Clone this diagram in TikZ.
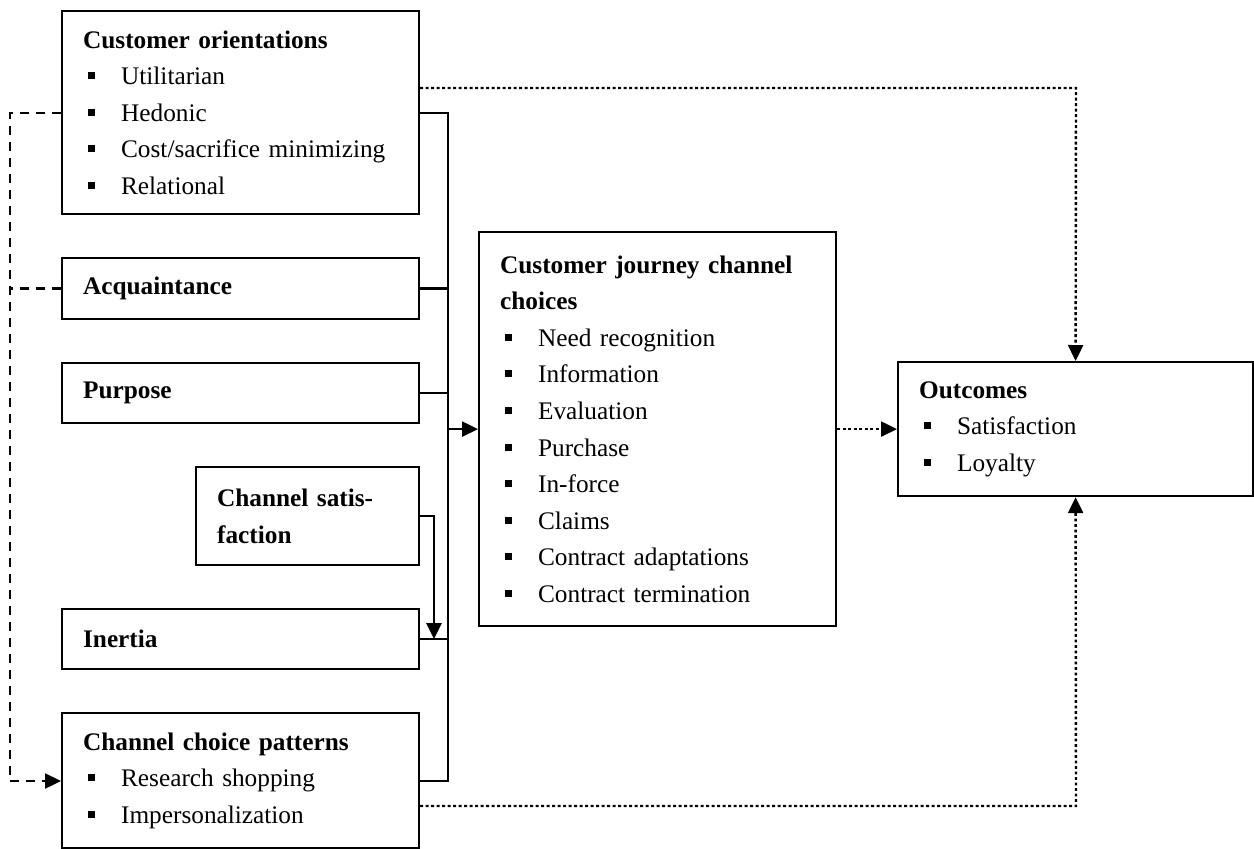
\documentclass[tikz,border=0pt]{standalone}
\usepackage{fontspec}
\setmainfont{Liberation Serif}
\usetikzlibrary{arrows.meta}
% one bulleted line: small filled square, then the item text
\newcommand\bitem[1]{\\\hspace*{5pt}\rule[5.5pt]{7pt}{7pt}\hspace{26pt}#1}

\begin{document}
\begin{tikzpicture}[x=1pt, y=-1pt,
  box/.style={draw, line width=2.2pt, anchor=north west, align=left,
    inner xsep=21pt, inner ysep=0pt,
    font=\fontsize{25.3}{36.6}\selectfont},
  link/.style={line width=2.4pt},
  arr/.style={-{Triangle[length=16pt,width=15pt]}},
  dotline/.style={line width=2.4pt, dash pattern=on 2.8pt off 2.7pt},
  dashline/.style={line width=2.4pt, dash pattern=on 9pt off 7pt}]
\useasboundingbox (0,0) rectangle (1254,849);

% antecedent boxes (left column)
\node[box, text width=315pt, minimum height=203pt] (co) at (61,10)
  {\textbf{Customer orientations}\bitem{Utilitarian}\bitem{Hedonic}%
   \bitem{Cost/sacrifice minimizing}\bitem{Relational}};
\node[box, text width=315pt, minimum height=61pt] (acq) at (61,257)
  {\textbf{Acquaintance}};
\node[box, text width=315pt, minimum height=60pt] (pur) at (61,362)
  {\textbf{Purpose}};
\node[box, text width=181pt, minimum height=98pt] (sat) at (195,466)
  {\textbf{Channel satis-}\\\textbf{faction}};
\node[box, text width=315pt, minimum height=60pt] (ine) at (61,608)
  {\textbf{Inertia}};
\node[box, text width=315pt, minimum height=135pt] (ccp) at (61,712)
  {\textbf{Channel choice patterns}\bitem{Research shopping}%
   \bitem{Impersonalization}};

% central and outcome boxes
\node[box, text width=315pt, minimum height=394pt] (jour) at (478,231)
  {\textbf{Customer journey channel}\\\textbf{choices}%
   \bitem{Need recognition}\bitem{Information}\bitem{Evaluation}%
   \bitem{Purchase}\bitem{In-force}\bitem{Claims}%
   \bitem{Contract adaptations}\bitem{Contract termination}};
\node[box, text width=313pt, minimum height=134pt] (out) at (897,361)
  {\textbf{Outcomes}\bitem{Satisfaction}\bitem{Loyalty}};

% routing points
\coordinate (trunkTop) at (448,113);
\coordinate (trunkBot) at (448,781);
\coordinate (satDrop) at (434,516);
\coordinate (dashTop) at (10,113);
\coordinate (dashBot) at (10,781);
\coordinate (dotTop) at (1076,88);
\coordinate (dotBot) at (1076,806);

% solid collector line into the journey box
\draw[link] (co.east |- trunkTop) -- (trunkTop) -- (trunkBot) -- (ccp.east |- trunkBot);
\draw[link] (acq.east) -- (acq.east -| trunkTop);
\draw[link] (pur.east) -- (pur.east -| trunkTop);
\draw[link] (ine.east) -- (ine.east -| trunkTop);
\draw[link, arr] (sat.east |- satDrop) -- (satDrop) -- (satDrop |- ine.east);
\draw[link, arr] (trunkTop |- jour.west) -- (jour.west);

% dashed feedback into channel choice patterns
\draw[dashline] (co.west |- dashTop) -- (dashTop) -- (dashBot);
\draw[dashline, arr] (dashBot) -- (ccp.west |- dashBot);
\draw[dashline] (acq.west) -- (acq.west -| dashTop);

% dotted paths to outcomes
\draw[dotline, arr] (jour.east) -- (out.west);
\draw[dotline, arr] (co.east |- dotTop) -- (dotTop) -- (out.north);
\draw[dotline, arr] (ccp.east |- dotBot) -- (dotBot) -- (out.south);
\end{tikzpicture}
\end{document}
